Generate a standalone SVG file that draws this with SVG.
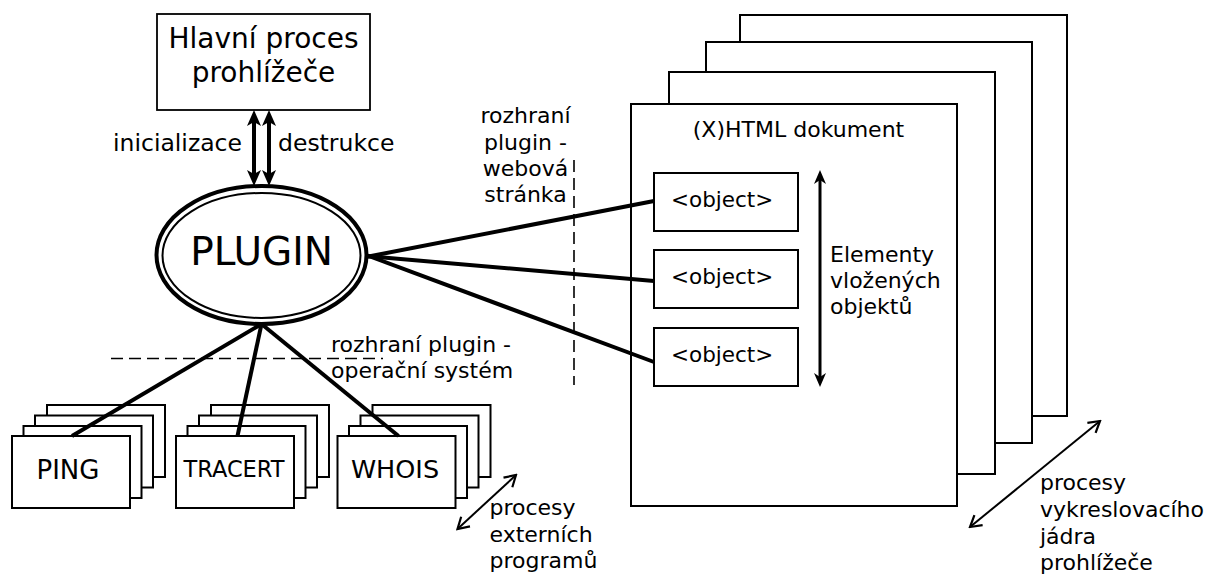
<svg xmlns="http://www.w3.org/2000/svg" width="1207" height="574" viewBox="0 0 1207 574">
<style>
text{font-family:"DejaVu Sans","Liberation Sans",sans-serif;fill:#000}
.box{fill:#fff;stroke:#000;stroke-width:2}
.thick{stroke:#000;stroke-width:4;fill:none}
.dash{stroke:#000;stroke-width:1.6;stroke-dasharray:12,6;fill:none}
.t22{font-size:22px}
</style>
<defs>
<marker id="fh" viewBox="0 -7 16 14" refX="4" refY="0" markerWidth="16" markerHeight="14" markerUnits="userSpaceOnUse" orient="auto-start-reverse">
<path d="M0,-7 L16,0 L0,7 L4,0 z" fill="#000"/>
</marker>
<marker id="fs" viewBox="0 -6 14 12" refX="4" refY="0" markerWidth="14" markerHeight="12" markerUnits="userSpaceOnUse" orient="auto-start-reverse">
<path d="M0,-6 L14,0 L0,6 L4,0 z" fill="#000"/>
</marker>
<marker id="oh" viewBox="-13 -8 15 16" refX="0" refY="0" markerWidth="15" markerHeight="16" markerUnits="userSpaceOnUse" orient="auto-start-reverse">
<path d="M-11,-6.5 L0,0 L-11,6.5" fill="none" stroke="#000" stroke-width="2.2"/>
</marker>
</defs>

<g id="render-pages">
<rect class="box" x="740" y="15" width="327" height="401"/>
<rect class="box" x="706" y="42" width="326" height="401"/>
<rect class="box" x="669" y="72" width="326" height="402"/>
<rect class="box" x="631" y="104" width="326" height="402"/>
<text class="t22" x="798.5" y="137" text-anchor="middle">(X)HTML dokument</text>
</g>

<g id="main-process">
<rect x="157" y="14" width="213" height="96" fill="#fff" stroke="#000" stroke-width="1.8"/>
<text x="263.5" y="48" font-size="28" text-anchor="middle">Hlavní proces</text>
<text x="263.5" y="82" font-size="28" text-anchor="middle">prohlížeče</text>
</g>

<g id="ping">
<rect class="box" x="47" y="405" width="118" height="72"/>
<rect class="box" x="35" y="415.5" width="118" height="72"/>
<rect class="box" x="23.5" y="426" width="118" height="72"/>
<rect class="box" x="12" y="436" width="118" height="72"/>
<text x="68" y="478.5" font-size="26" text-anchor="middle">PING</text>
</g>
<g id="tracert">
<rect class="box" x="211" y="405" width="118" height="72"/>
<rect class="box" x="199" y="415.5" width="118" height="72"/>
<rect class="box" x="187.5" y="426" width="118" height="72"/>
<rect class="box" x="176" y="436" width="118" height="72"/>
<text x="234" y="477" font-size="22.5" text-anchor="middle">TRACERT</text>
</g>
<g id="whois">
<rect class="box" x="372.5" y="405" width="118" height="72"/>
<rect class="box" x="360.5" y="415.5" width="118" height="72"/>
<rect class="box" x="349" y="426" width="118" height="72"/>
<rect class="box" x="337.5" y="436" width="118" height="72"/>
<text x="395" y="477.5" font-size="25.5" text-anchor="middle">WHOIS</text>
</g>

<g id="objects">
<g id="object1"><rect class="box" x="654" y="173" width="144" height="58"/><text x="671" y="207" font-size="21.5">&lt;object&gt;</text></g>
<g id="object2"><rect class="box" x="654" y="250" width="144" height="58"/><text x="671" y="284" font-size="21.5">&lt;object&gt;</text></g>
<g id="object3"><rect class="box" x="654" y="328" width="144" height="58"/><text x="671" y="362" font-size="21.5">&lt;object&gt;</text></g>
</g>

<g id="connectors">
<line class="thick" x1="366" y1="257" x2="654" y2="201"/>
<line class="thick" x1="366" y1="256" x2="654" y2="281"/>
<line class="thick" x1="366" y1="255" x2="654" y2="362"/>
<line class="thick" x1="261.5" y1="324" x2="72" y2="436"/>
<line class="thick" x1="261.5" y1="324" x2="237.5" y2="436"/>
<line class="thick" x1="261.5" y1="324" x2="398.5" y2="436"/>
<line class="thick" x1="254" y1="122" x2="254" y2="174" marker-start="url(#fh)" marker-end="url(#fh)"/>
<line class="thick" x1="269" y1="122" x2="269" y2="174" marker-start="url(#fh)" marker-end="url(#fh)"/>
<line x1="820" y1="180" x2="820" y2="377" stroke="#000" stroke-width="3" marker-start="url(#fs)" marker-end="url(#fs)"/>
<line x1="970" y1="527" x2="1100" y2="421" stroke="#000" stroke-width="2" marker-start="url(#oh)" marker-end="url(#oh)"/>
<line x1="457.5" y1="529" x2="516" y2="475" stroke="#000" stroke-width="2" marker-start="url(#oh)" marker-end="url(#oh)"/>
<line class="dash" x1="111" y1="358.5" x2="383" y2="358.5"/>
<line class="dash" x1="574" y1="160" x2="574" y2="385"/>
</g>

<g id="plugin">
<ellipse cx="261.5" cy="255" rx="105" ry="69" fill="#fff" stroke="#000" stroke-width="4"/>
<ellipse cx="261.5" cy="255.5" rx="99" ry="62.5" fill="none" stroke="#000" stroke-width="2"/>
<text x="261.5" y="265" font-size="39" text-anchor="middle">PLUGIN</text>
</g>

<g id="labels">
<text x="242" y="150.5" font-size="23.5" text-anchor="end">inicializace</text>
<text x="278" y="150.5" font-size="23.5">destrukce</text>
<text class="t22" x="830" y="262">Elementy</text>
<text class="t22" x="830" y="288">vložených</text>
<text class="t22" x="830" y="314">objektů</text>
<text class="t22" x="525.5" y="123" text-anchor="middle">rozhraní</text>
<text class="t22" x="525.5" y="150" text-anchor="middle">plugin -</text>
<text class="t22" x="525.5" y="176" text-anchor="middle">webová</text>
<text class="t22" x="525.5" y="202" text-anchor="middle">stránka</text>
<text class="t22" x="331" y="352">rozhraní plugin -</text>
<text class="t22" x="331" y="377.5">operační systém</text>
<text class="t22" x="489.5" y="515">procesy</text>
<text class="t22" x="489.5" y="541.5">externích</text>
<text class="t22" x="489.5" y="568">programů</text>
<text class="t22" x="1040" y="490">procesy</text>
<text class="t22" x="1040" y="517">vykreslovacího</text>
<text class="t22" x="1040" y="544">jádra</text>
<text class="t22" x="1040" y="570">prohlížeče</text>
</g>
</svg>
